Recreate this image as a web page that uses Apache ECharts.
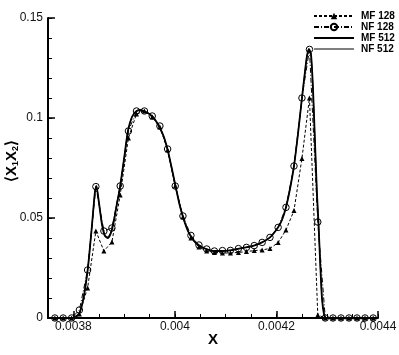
<!DOCTYPE html>
<html>
<head>
<meta charset="utf-8">
<script src="https://cdn.jsdelivr.net/npm/echarts@6/dist/echarts.min.js"></script>
<style>
html,body{margin:0;padding:0;background:#fff;}
#chart{width:399px;height:355px;}
</style>
</head>
<body>
<div id="chart"></div>
<script>
// ---- data ----
const seriesNames = ['MF 128', 'NF 128', 'MF 512', 'NF 512'];

const x128 = [0.0037635,0.0037799,0.0037965,0.0038118,0.003828,0.0038443,0.0038601,0.0038759,0.0038922,0.0039084,
  0.0039243,0.0039399,0.0039553,0.0039704,0.0039856,0.0040006,0.0040158,0.0040315,0.0040473,0.0040626,
  0.0040778,0.0040936,0.0041093,0.0041251,0.0041409,0.0041562,0.0041718,0.0041872,0.0042033,0.0042187,
  0.0042345,0.0042502,0.004265,0.0042814,0.0042961,0.0043113,0.0043271,0.0043428,0.0043586,0.0043744,0.0043905];

const yNF128 = [0,0,0,0.004,0.024,0.0657,0.0435,0.045,0.066,0.0935,
  0.1035,0.1035,0.101,0.096,0.0845,0.066,0.051,0.0413,0.0365,0.0345,
  0.0335,0.0337,0.0338,0.0347,0.0353,0.0362,0.0378,0.0403,0.0453,0.0553,
  0.076,0.110,0.1343,0.048,0,0,0,0,0,0,0];

const yMF128 = [0,0,0,0.002,0.015,0.0435,0.0335,0.038,0.0615,0.09,
  0.102,0.1035,0.1005,0.0955,0.084,0.066,0.0505,0.040,0.0355,0.0335,
  0.0328,0.0325,0.0325,0.0328,0.0332,0.0337,0.034,0.0348,0.0377,0.044,
  0.0537,0.0798,0.110,0.0015,0,0,0,0,0,0,0];

const x512 = [0.00375,0.0037734,0.0037931,0.0038049,0.0038128,0.0038207,0.0038286,0.0038365,0.0038424,0.0038453,
  0.0038502,0.0038562,0.0038621,0.003868,0.0038739,0.0038798,0.0038857,0.0038916,0.0038995,0.0039074,
  0.0039153,0.0039232,0.003931,0.0039389,0.0039468,0.0039547,0.0039626,0.0039704,0.0039783,0.0039862,
  0.0039941,0.004002,0.0040098,0.0040177,0.0040256,0.0040335,0.0040414,0.0040493,0.0040611,0.0040768,
  0.0040926,0.0041084,0.0041241,0.0041399,0.0041557,0.0041714,0.0041872,0.004203,0.0042108,0.0042187,
  0.0042266,0.0042345,0.0042424,0.0042502,0.0042561,0.0042601,0.004264,0.004268,0.0042719,0.0042759,
  0.0042798,0.0042827,0.0042857,0.0042896,0.0042936,0.0042975,0.0043251,0.0044];

const yNF512 = [0,0,0,0.0005,0.003,0.011,0.025,0.046,0.063,0.066,
  0.058,0.047,0.0415,0.0405,0.043,0.049,0.057,0.065,0.079,0.0935,
  0.1005,0.1033,0.104,0.1035,0.1025,0.101,0.0985,0.095,0.0905,0.0835,
  0.0745,0.065,0.056,0.049,0.0435,0.040,0.0375,0.036,0.0345,0.0335,
  0.0335,0.0338,0.0346,0.0353,0.0362,0.0378,0.0403,0.0453,0.049,0.0553,
  0.0645,0.076,0.092,0.110,0.123,0.131,0.1345,0.132,0.115,0.088,
  0.062,0.048,0.030,0.010,0.002,0,0,0];

const yMF512 = [0,0,0,0.0005,0.003,0.011,0.025,0.046,0.063,0.066,
  0.058,0.047,0.041,0.040,0.0425,0.0485,0.057,0.065,0.079,0.0935,
  0.1005,0.1033,0.104,0.1035,0.1025,0.101,0.0985,0.095,0.0905,0.0835,
  0.0745,0.065,0.056,0.049,0.0435,0.040,0.0375,0.036,0.0345,0.0335,
  0.0335,0.0338,0.0346,0.0353,0.0362,0.0378,0.0403,0.0453,0.049,0.0553,
  0.0645,0.076,0.092,0.110,0.123,0.131,0.1345,0.132,0.115,0.088,
  0.062,0.048,0.030,0.010,0.002,0,0,0];

const xMajorTicks = [0.0038, 0.004, 0.0042, 0.0044];
const yMajorTicks = [0, 0.05, 0.1, 0.15];

// ---- chart ----
const pairs = (xs, ys) => xs.map((x, i) => [x, ys[i]]);
const FONT = '"Liberation Sans", Arial, Helvetica, sans-serif';
const chart = echarts.init(document.getElementById('chart'), null, {renderer: 'canvas'});
const fmt = v => String(Number(Number(v).toPrecision(6)));
// legend icon: a plain horizontal line spanning the icon box
const lineIcon = w => 'path://M0 0H0.01V0.01H0Z M0 ' + (4 - w / 2) + 'H40V' + (4 + w / 2) + 'H0Z M0 8H0.01V8.01H0Z';

chart.setOption({
  animation: false,
  backgroundColor: '#fff',
  grid: {left: 48, right: 21, top: 18, bottom: 37, containLabel: false, outerBoundsMode: 'none'},
  legend: {
    data: [
      {name: 'MF 128'},
      {name: 'NF 128'},
      {name: 'MF 512', icon: lineIcon(1.8)},
      {name: 'NF 512', icon: lineIcon(1)}
    ],
    orient: 'vertical',
    left: 308, top: 6,
    itemWidth: 40, itemHeight: 8, itemGap: 1,
    textStyle: {fontFamily: FONT, fontSize: 10, fontWeight: 'bold', color: '#000', lineHeight: 9, padding: [0,0,0,2]}
  },
  graphic: [{
    type: 'text', x: 12, y: 161, rotation: Math.PI / 2,
    style: {
      text: '⟨X{s|1}X{s|2}⟩', align: 'center', verticalAlign: 'middle',
      font: 'bold 15px ' + FONT, fill: '#000',
      rich: {s: {font: 'bold 9px ' + FONT, fill: '#000', padding: [7,0,0,0]}}
    }
  }],
  xAxis: [{
    type: 'value', min: 0.00375, max: 0.0044, position: 'bottom',
    name: 'X', nameLocation: 'middle', nameGap: 14, nameMoveOverlap: false,
    nameTextStyle: {fontFamily: FONT, fontSize: 15, fontWeight: 'bold', color: '#000'},
    axisLine: {show: true, onZero: false, lineStyle: {color: '#000', width: 2}},
    axisTick: {show: true, inside: true, length: 7, lineStyle: {color: '#000', width: 1.5}, customValues: xMajorTicks},
    axisLabel: {customValues: xMajorTicks, formatter: fmt, margin: 3, fontFamily: FONT, fontSize: 12, color: '#111'},
    splitLine: {show: false}
  }, {
    type: 'value', min: 0.00375, max: 0.0044, interval: 0.00005, position: 'bottom',
    axisLine: {show: false},
    axisTick: {show: true, inside: true, length: 4, lineStyle: {color: '#000', width: 1}},
    axisLabel: {show: false}, splitLine: {show: false}
  }],
  yAxis: [{
    type: 'value', min: 0, max: 0.15, interval: 0.05, position: 'left',
    axisLine: {show: true, onZero: false, lineStyle: {color: '#000', width: 2}},
    axisTick: {show: true, inside: true, length: 7, lineStyle: {color: '#000', width: 1.5}},
    axisLabel: {formatter: fmt, margin: 5, fontFamily: FONT, fontSize: 12, color: '#111'},
    splitLine: {show: false}
  }, {
    type: 'value', min: 0, max: 0.15, interval: 0.01, position: 'left',
    axisLine: {show: false},
    axisTick: {show: true, inside: true, length: 4, lineStyle: {color: '#000', width: 1}},
    axisLabel: {show: false}, splitLine: {show: false}
  }],
  series: [{
    name: 'MF 128', type: 'line', data: pairs(x128, yMF128),
    symbol: 'triangle', symbolSize: 5, showAllSymbol: true,
    itemStyle: {color: '#000'},
    lineStyle: {color: '#000', width: 1, type: [3, 2]}
  }, {
    name: 'NF 128', type: 'line', data: pairs(x128, yNF128),
    symbol: 'circle', symbolSize: 6.5, showAllSymbol: true,
    itemStyle: {color: 'rgba(255,255,255,0)', borderColor: '#000', borderWidth: 1},
    lineStyle: {color: '#000', width: 1, type: [5, 2, 1, 2]}
  }, {
    name: 'MF 512', type: 'line', data: pairs(x512, yMF512),
    symbol: 'none', smooth: 0.2,
    itemStyle: {color: '#000'},
    lineStyle: {color: '#000', width: 1.8}
  }, {
    name: 'NF 512', type: 'line', data: pairs(x512, yNF512),
    symbol: 'none', smooth: 0.2,
    itemStyle: {color: '#000'},
    lineStyle: {color: '#000', width: 1}
  }]
});
</script>
</body>
</html>
